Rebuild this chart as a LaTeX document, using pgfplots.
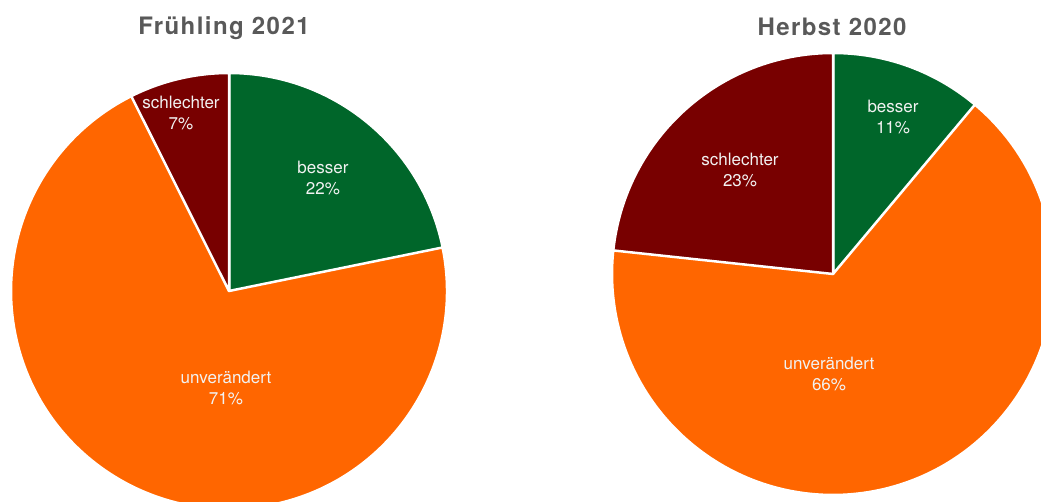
\documentclass[border=0pt]{standalone}
\usepackage{pgfplots}
\pgfplotsset{compat=1.18}
\usepackage{fontspec}
\setmainfont{TeX Gyre Heros}
\definecolor{gruen}{HTML}{00662A}
\definecolor{orange}{HTML}{FF6600}
\definecolor{rot}{HTML}{780000}
\definecolor{titel}{HTML}{595959}

% slice: centre x, centre y, radius, start angle, percent, colour
\newcommand{\slice}[6]{%
  \pgfmathsetmacro{\endang}{#4-3.6*#5}%
  \fill[#6, draw=white, line width=2.5pt, line join=round]
    (axis cs:#1,#2) -- ++(#4:#3pt) arc[start angle=#4, end angle=\endang, radius=#3pt] -- cycle;%
}

\begin{document}
\begin{tikzpicture}
\begin{axis}[
    scale only axis,
    width=1041pt, height=502pt,
    xmin=0, xmax=1041, ymin=0, ymax=502,
    hide axis, clip=true,
  ]
  % Fruehling 2021: besser 22, unveraendert 71, schlechter 7
  \slice{229}{211}{218}{90}{21.8}{gruen}
  \slice{229}{211}{218}{11.52}{70.8}{orange}
  \slice{229}{211}{218}{-243.36}{7.4}{rot}
  % Herbst 2020: besser 11, unveraendert 66, schlechter 23
  \slice{833}{228}{221}{90}{11.1}{gruen}
  \slice{833}{228}{221}{50.04}{65.6}{orange}
  \slice{833}{228}{221}{-186.12}{23.3}{rot}

  \begin{scope}[every node/.style={text=white!95!black, font=\fontsize{17}{21}\selectfont, align=center}]
    \node at (axis cs:323,324) {besser\\22\%};
    \node at (axis cs:181,389) {schlechter\\7\%};
    \node at (axis cs:226,114) {unverändert\\71\%};
    \node at (axis cs:893,385) {besser\\11\%};
    \node at (axis cs:740,332) {schlechter\\23\%};
    \node at (axis cs:829,128) {unverändert\\66\%};
  \end{scope}
  \node[text=titel, font=\fontsize{24}{28}\selectfont\bfseries\addfontfeature{LetterSpace=6}] at (axis cs:224,474) {Frühling 2021};
  \node[text=titel, font=\fontsize{24}{28}\selectfont\bfseries\addfontfeature{LetterSpace=6}] at (axis cs:832,475) {Herbst 2020};
\end{axis}
\pgfresetboundingbox
\path[use as bounding box] (current axis.south west) rectangle (current axis.north east);
\end{tikzpicture}
\end{document}
